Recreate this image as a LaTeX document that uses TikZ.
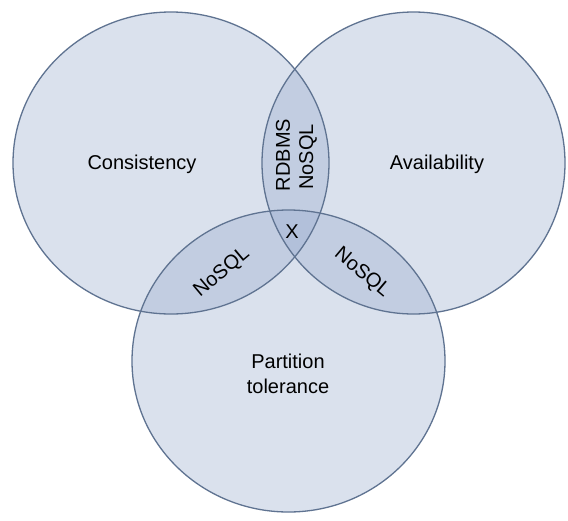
\documentclass[tikz,border=0pt]{standalone}
\usepackage{fontspec}
\setmainfont{Liberation Sans}
\begin{document}
\begin{tikzpicture}[x=1pt,y=-1pt,
  setfill/.style={fill={rgb,255:red,150;green,170;blue,205},fill opacity=0.35},
  setedge/.style={draw={rgb,255:red,95;green,115;blue,145},line width=1.3pt},
  lbl/.style={font=\fontsize{20}{25}\selectfont,text=black,align=center,inner sep=0pt}]
\useasboundingbox (0,0) rectangle (568,520);
\fill[white] (0,0) rectangle (568,520);
% set fills
\fill[setfill] (171,163) ellipse [x radius=158,y radius=151];
\fill[setfill] (413.5,163) ellipse [x radius=151.5,y radius=151];
\fill[setfill] (288.5,361) ellipse [x radius=156.5,y radius=151];
% set outlines
\draw[setedge] (171,163) ellipse [x radius=158,y radius=151];
\draw[setedge] (413.5,163) ellipse [x radius=151.5,y radius=151];
\draw[setedge] (288.5,361) ellipse [x radius=156.5,y radius=151];
% labels
\node[lbl] (c) at (142,164) {Consistency};
\node[lbl] (a) at (437,164) {Availability};
\node[lbl] (p) at (288,374) {Partition\\tolerance};
\node[lbl,rotate=90] (r) at (283,155) {RDBMS};
\node[lbl,rotate=90] (n1) at (308,157) {NoSQL};
\node[lbl] (x) at (292,232) {X};
\node[lbl,rotate=40] (n2) at (222,273) {NoSQL};
\node[lbl,rotate=-40] (n3) at (362,273) {NoSQL};
\end{tikzpicture}
\end{document}
